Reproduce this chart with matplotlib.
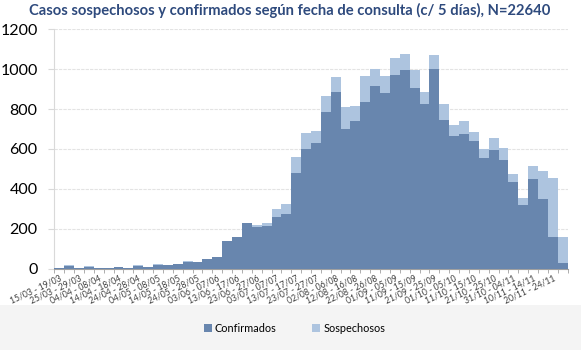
import matplotlib
matplotlib.use("Agg")
import matplotlib.pyplot as plt
from matplotlib.patches import Rectangle
import numpy as np

plt.rcParams['font.family'] = ['Lato', 'DejaVu Sans']

periods = [
    "15/03 - 19/03", "20/03 - 24/03", "25/03 - 29/03", "30/03 - 03/04",
    "04/04 - 08/04", "09/04 - 13/04", "14/04 - 18/04", "19/04 - 23/04",
    "24/04 - 28/04", "29/04 - 03/05", "04/05 - 08/05", "09/05 - 13/05",
    "14/05 - 18/05", "19/05 - 23/05", "24/05 - 28/05", "29/05 - 02/06",
    "03/06 - 07/06", "08/06 - 12/06", "13/06 - 17/06", "18/06 - 22/06",
    "23/06 - 27/06", "28/06 - 02/07", "03/07 - 07/07", "08/07 - 12/07",
    "13/07 - 17/07", "18/07 - 22/07", "23/07 - 27/07", "28/07 - 01/08",
    "02/08 - 06/08", "07/08 - 11/08", "12/08 - 16/08", "17/08 - 21/08",
    "22/08 - 26/08", "27/08 - 31/08", "01/09 - 05/09", "06/09 - 10/09",
    "11/09 - 15/09", "16/09 - 20/09", "21/09 - 25/09", "26/09 - 30/09",
    "01/10 - 05/10", "06/10 - 10/10", "11/10 - 15/10", "16/10 - 20/10",
    "21/10 - 25/10", "26/10 - 30/10", "31/10 - 04/11", "05/11 - 09/11",
    "10/11 - 14/11", "15/11 - 19/11", "20/11 - 24/11", "25/11 - 29/11",
]

confirmados = [
    4, 15, 4, 8, 3, 3, 6, 4, 14, 8, 17, 16, 24, 34, 34, 47, 56, 136, 159, 229,
    208, 211, 257, 271, 477, 601, 632, 787, 887, 701, 742, 837, 917, 879, 969,
    997, 907, 826, 1002, 747, 666, 676, 639, 554, 594, 544, 432, 319, 447, 347,
    157, 29,
]
sospechosos = [
    1, 5, 0, 4, 0, 0, 0, 0, 2, 2, 4, 0, 0, 3, 0, 0, 0, 0, 0, 0,
    10, 18, 42, 55, 84, 80, 60, 80, 72, 108, 75, 127, 82, 85, 88,
    77, 90, 61, 67, 77, 56, 63, 47, 48, 62, 63, 40, 37, 69, 144,
    299, 128,
]

dark = "#6886ae"
light = "#adc4df"

fig = plt.figure(figsize=(5.81, 3.5), dpi=100)
fig.patches.append(Rectangle((0, 0), 1, 0.13, transform=fig.transFigure,
                             facecolor="#f4f4f4", edgecolor="none", zorder=-10))

ax = fig.add_axes([54.3 / 581, 1 - 268.5 / 350, (567.7 - 54.3) / 581, (268.5 - 29.3) / 350])
x = np.arange(len(periods))
ax.bar(x, confirmados, width=1.0, color=dark, edgecolor="none", label="Confirmados", zorder=3)
ax.bar(x, sospechosos, width=1.0, bottom=confirmados, color=light, edgecolor="none",
       label="Sospechosos", zorder=3)

ax.set_xlim(-0.5, len(periods) - 0.5)
ax.set_ylim(0, 1200)
ax.set_yticks(range(0, 1201, 200))
ax.tick_params(axis='y', labelsize=11.5, length=4, color="#d9d9d9", pad=8)
ax.yaxis.grid(True, color="#e3e3e3", linestyle=(0, (3, 1)), linewidth=0.8, zorder=0)
ax.set_axisbelow(True)

ax.set_xticks(x[::2])
ax.set_xticklabels(periods[::2], rotation=25, ha='right', rotation_mode='anchor',
                   fontsize=6.2, color="#404040")
ax.tick_params(axis='x', length=0, pad=4)
ax.set_xticks(np.arange(-0.5, len(periods), 1), minor=True)
ax.tick_params(axis='x', which='minor', length=3, color="#a0a0a0")

for s in ['top', 'right']:
    ax.spines[s].set_visible(False)
ax.spines['left'].set_color("#d9d9d9")
ax.spines['bottom'].set_color("#a0a0a0")

fig.text(29 / 581, 1 - 10.5 / 350,
         "Casos sospechosos y confirmados según fecha de consulta (c/ 5 días), N=22640",
         fontsize=10.6, fontweight='bold', color="#2e4a7d", va='center', ha='left')

fig.legend(loc='center', bbox_to_anchor=(0.507, 1 - 328 / 350), ncol=2, frameon=False,
           fontsize=7.8, handlelength=0.7, handleheight=0.7, columnspacing=3.3, handletextpad=0.3)

fig.savefig("out.png", dpi=100, facecolor="white")
